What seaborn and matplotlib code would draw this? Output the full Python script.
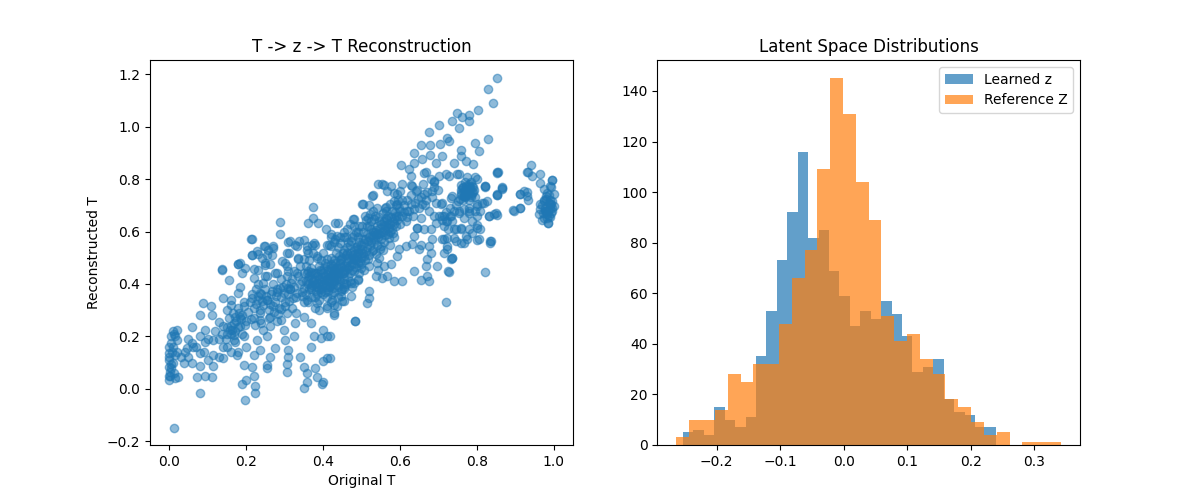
import numpy as np
import pandas as pd
import matplotlib
matplotlib.use('Agg')
import matplotlib.pyplot as plt
import seaborn as sns

# (original T, reconstructed T), grouped by region
pts_low = [
    (0.013, -0.147), (0.0, 0.034), (0.002, 0.05), (0.0, 0.085), (0.0, 0.11), (0.0, 0.137),
    (0.016, 0.13), (0.02, 0.187), (0.016, 0.2), (0.02, 0.225), (0.01, 0.16), (0.024, 0.047),
    (0.06, 0.237), (0.06, 0.175), (0.062, 0.16), (0.046, 0.155), (0.05, 0.12), (0.039, 0.1),
    (0.081, 0.136), (0.08, 0.086), (0.072, 0.047), (0.081, -0.016), (0.094, 0.05), (0.111, 0.045),
    (0.094, 0.225), (0.094, 0.18), (0.115, 0.187), (0.115, 0.086), (0.115, 0.13), (0.089, 0.328),
    (0.081, 0.283), (0.111, 0.283), (0.108, 0.315), (0.137, 0.455), (0.155, 0.417), (0.141, 0.347),
    (0.16, 0.34), (0.15, 0.30), (0.13, 0.255), (0.15, 0.235), (0.16, 0.21), (0.168, 0.187),
    (0.14, 0.16), (0.14, 0.117), (0.16, 0.14), (0.176, 0.13), (0.194, 0.09), (0.19, 0.02),
    (0.2, 0.035), (0.198, -0.042), (0.224, -0.016), (0.224, 0.01), (0.22, 0.05), (0.215, 0.085),
    (0.185, 0.48), (0.18, 0.475), (0.19, 0.44), (0.215, 0.57), (0.215, 0.51), (0.232, 0.516),
    (0.23, 0.455), (0.185, 0.39), (0.18, 0.365), (0.195, 0.315), (0.185, 0.276), (0.168, 0.25),
    (0.163, 0.225), (0.194, 0.2), (0.2, 0.16), (0.22, 0.13), (0.237, 0.148), (0.228, 0.187),
    (0.245, 0.225), (0.237, 0.264), (0.237, 0.302), (0.254, 0.34), (0.237, 0.366), (0.245, 0.404),
    (0.22, 0.422), (0.254, 0.43), (0.25, 0.48), (0.246, 0.545), (0.254, 0.512), (0.27, 0.545),
    (0.263, 0.475), (0.28, 0.44), (0.28, 0.379), (0.27, 0.315), (0.263, 0.276), (0.263, 0.238),
    (0.254, 0.2), (0.263, 0.123), (0.254, 0.09), (0.254, 0.078), (0.276, 0.155), (0.306, 0.096),
    (0.31, 0.12), (0.306, 0.066), (0.31, 0.148), (0.302, 0.187), (0.298, 0.225), (0.29, 0.264),
    (0.306, 0.29), (0.315, 0.379), (0.306, 0.43), (0.306, 0.468), (0.306, 0.52), (0.315, 0.563),
    (0.332, 0.545), (0.336, 0.494), (0.332, 0.443), (0.332, 0.366), (0.328, 0.251), (0.324, 0.2),
    (0.341, 0.123), (0.35, 0.085), (0.358, 0.06), (0.35, 0.002), (0.358, 0.028), (0.38, 0.079),
    (0.384, 0.047), (0.4, 0.028), (0.397, 0.02), (0.4, 0.105), (0.41, 0.117), (0.4, 0.225),
    (0.41, 0.2), (0.394, 0.193), (0.368, 0.16), (0.376, 0.2), (0.368, 0.25), (0.35, 0.276),
    (0.358, 0.34), (0.368, 0.39), (0.358, 0.443), (0.35, 0.494), (0.358, 0.545), (0.376, 0.557),
    (0.384, 0.507), (0.384, 0.443), (0.394, 0.379), (0.384, 0.328), (0.41, 0.315), (0.428, 0.283),
    (0.424, 0.34), (0.41, 0.39), (0.41, 0.494), (0.42, 0.545), (0.445, 0.557), (0.463, 0.52),
    (0.445, 0.48), (0.455, 0.443), (0.455, 0.39), (0.45, 0.334), (0.484, 0.26), (0.48, 0.404),
    (0.48, 0.494), (0.488, 0.545),
    (0.0, 0.05), (0.0, 0.12), (0.0, 0.16), (0.005, 0.08), (0.005, 0.2), (0.01, 0.1),
    (0.01, 0.22), (0.015, 0.04), (0.02, 0.14), (0.03, 0.12), (0.04, 0.14), (0.05, 0.19),
    (0.06, 0.1), (0.07, 0.16), (0.08, 0.2), (0.09, 0.14), (0.1, 0.19), (0.1, 0.11),
    (0.12, 0.22), (0.13, 0.19), (0.14, 0.24), (0.15, 0.21), (0.155, 0.27), (0.16, 0.24),
    (0.165, 0.29), (0.17, 0.22), (0.175, 0.26), (0.18, 0.31), (0.185, 0.24), (0.19, 0.28),
    (0.195, 0.33), (0.17, 0.18), (0.15, 0.16), (0.18, 0.14), (0.13, 0.12), (0.16, 0.32),
    (0.19, 0.21), (0.2, 0.26),
    (0.21, 0.33), (0.215, 0.36), (0.22, 0.31), (0.225, 0.38), (0.23, 0.34), (0.235, 0.29),
    (0.24, 0.36), (0.245, 0.32), (0.25, 0.38), (0.255, 0.34), (0.26, 0.30), (0.265, 0.36),
    (0.27, 0.40), (0.275, 0.33), (0.28, 0.37), (0.285, 0.31), (0.29, 0.35), (0.295, 0.39),
    (0.22, 0.27), (0.24, 0.25), (0.26, 0.27), (0.28, 0.26), (0.23, 0.40), (0.25, 0.43),
    (0.275, 0.44), (0.29, 0.42),
]

pts_upper_left = [
    (0.137, 0.458), (0.178, 0.477), (0.198, 0.46), (0.221, 0.458), (0.214, 0.572), (0.215, 0.512),
    (0.228, 0.525), (0.241, 0.5), (0.25, 0.544), (0.258, 0.53), (0.267, 0.512), (0.27, 0.537),
    (0.25, 0.474), (0.287, 0.637), (0.289, 0.592), (0.308, 0.56), (0.293, 0.487), (0.311, 0.52),
    (0.328, 0.55), (0.337, 0.563), (0.35, 0.567), (0.358, 0.53), (0.371, 0.55), (0.374, 0.695),
    (0.373, 0.653), (0.36, 0.634), (0.386, 0.631), (0.408, 0.608), (0.42, 0.592), (0.438, 0.634),
    (0.431, 0.572), (0.415, 0.55), (0.455, 0.579), (0.47, 0.627), (0.479, 0.649), (0.495, 0.622),
    (0.504, 0.704), (0.519, 0.7), (0.529, 0.738), (0.54, 0.69), (0.542, 0.78), (0.516, 0.653),
    (0.532, 0.646),
]

pts_mid = [
    (0.719, 0.331), (0.823, 0.446), (0.484, 0.26), (0.519, 0.372), (0.519, 0.346), (0.515, 0.327),
    (0.428, 0.289), (0.437, 0.315), (0.419, 0.2), (0.419, 0.117), (0.554, 0.423), (0.584, 0.41),
    (0.606, 0.41), (0.567, 0.43), (0.636, 0.449), (0.655, 0.417), (0.672, 0.43), (0.676, 0.41),
    (0.698, 0.468), (0.726, 0.449), (0.667, 0.468), (0.672, 0.494), (0.68, 0.52), (0.676, 0.545),
    (0.685, 0.57), (0.68, 0.609), (0.663, 0.609), (0.646, 0.615), (0.637, 0.583), (0.615, 0.545),
    (0.632, 0.552), (0.65, 0.532), (0.655, 0.55), (0.598, 0.532), (0.594, 0.507), (0.576, 0.475),
    (0.559, 0.468), (0.542, 0.455), (0.537, 0.43), (0.507, 0.455), (0.49, 0.417), (0.472, 0.404),
    (0.455, 0.379), (0.446, 0.353), (0.472, 0.353), (0.455, 0.334), (0.419, 0.392), (0.428, 0.455),
    (0.446, 0.494), (0.437, 0.583), (0.432, 0.634), (0.463, 0.609), (0.481, 0.647), (0.502, 0.704),
    (0.528, 0.736), (0.554, 0.78), (0.576, 0.774), (0.606, 0.78), (0.593, 0.742), (0.628, 0.812),
    (0.632, 0.774), (0.663, 0.742), (0.667, 0.825), (0.689, 0.787), (0.702, 0.812), (0.728, 0.812),
    (0.754, 0.819), (0.776, 0.806), (0.797, 0.806), (0.788, 0.774), (0.78, 0.749), (0.767, 0.736),
    (0.736, 0.736), (0.71, 0.71), (0.702, 0.66), (0.693, 0.634), (0.715, 0.66), (0.733, 0.66),
    (0.754, 0.672), (0.767, 0.685), (0.78, 0.672), (0.802, 0.698), (0.819, 0.71), (0.802, 0.66),
    (0.832, 0.66), (0.85, 0.672), (0.81, 0.609), (0.806, 0.57), (0.788, 0.596), (0.775, 0.57),
    (0.767, 0.557), (0.745, 0.564), (0.745, 0.609), (0.724, 0.577), (0.724, 0.532), (0.736, 0.5),
    (0.71, 0.57), (0.838, 0.564), (0.823, 0.774), (0.854, 0.825), (0.854, 0.742), (0.867, 0.768),
    (0.897, 0.677), (0.914, 0.69), (0.914, 0.742), (0.93, 0.749), (0.93, 0.825),
]

pts_upper = [
    (0.853, 1.187), (0.829, 1.143), (0.842, 1.089), (0.803, 1.063), (0.779, 1.045), (0.762, 1.035),
    (0.749, 1.05), (0.779, 1.02), (0.753, 0.996), (0.736, 1.02), (0.701, 1.006), (0.675, 0.978),
    (0.723, 0.958), (0.727, 0.945), (0.704, 0.935), (0.678, 0.929), (0.654, 0.93), (0.636, 0.901),
    (0.797, 0.936), (0.805, 0.906), (0.829, 0.952), (0.758, 0.91), (0.758, 0.888), (0.741, 0.86),
    (0.771, 0.869), (0.79, 0.859), (0.71, 0.888), (0.693, 0.86), (0.678, 0.892), (0.658, 0.875),
    (0.636, 0.862), (0.603, 0.853), (0.623, 0.837), (0.662, 0.824), (0.719, 0.818), (0.749, 0.818),
    (0.688, 0.792), (0.758, 0.779), (0.779, 0.773), (0.801, 0.8), (0.823, 0.773), (0.853, 0.824),
    (0.866, 0.767), (0.853, 0.741), (0.827, 0.716), (0.853, 0.664), (0.81, 0.677), (0.779, 0.69),
    (0.753, 0.677), (0.732, 0.728), (0.706, 0.703), (0.684, 0.754), (0.667, 0.722), (0.641, 0.754),
    (0.628, 0.779), (0.601, 0.754), (0.584, 0.747), (0.558, 0.779), (0.567, 0.754), (0.562, 0.69),
    (0.593, 0.703), (0.619, 0.677), (0.654, 0.652), (0.688, 0.658), (0.723, 0.639), (0.758, 0.613),
    (0.801, 0.626), (0.645, 0.613),
    (0.8, 0.703), (0.814, 0.71), (0.797, 0.678), (0.78, 0.678), (0.767, 0.652), (0.788, 0.64),
    (0.802, 0.614), (0.78, 0.608), (0.758, 0.608), (0.741, 0.608), (0.771, 0.582), (0.741, 0.576),
    (0.758, 0.556), (0.802, 0.569), (0.836, 0.556), (0.723, 0.544), (0.714, 0.518), (0.736, 0.5),
    (0.714, 0.57), (0.855, 0.825), (0.865, 0.763), (0.853, 0.741), (0.823, 0.771), (0.846, 0.665),
    (0.832, 0.659), (0.834, 0.562), (0.727, 0.446), (0.732, 0.496),
]

pts_right = [
    (0.942, 0.853), (0.933, 0.827), (0.944, 0.812), (0.964, 0.821), (0.964, 0.786), (0.997, 0.797),
    (0.992, 0.773), (0.983, 0.748), (1.0, 0.742), (0.975, 0.722), (0.988, 0.71), (1.0, 0.697),
    (0.966, 0.684), (0.979, 0.678), (0.997, 0.678), (0.962, 0.665), (0.983, 0.652), (0.985, 0.633),
    (0.992, 0.722), (0.975, 0.761), (0.923, 0.754), (0.93, 0.735), (0.913, 0.742), (0.933, 0.722),
    (0.914, 0.69), (0.895, 0.682), (0.98, 0.735), (0.975, 0.716), (0.993, 0.703), (0.98, 0.677),
    (0.988, 0.658), (0.975, 0.652), (0.986, 0.632), (0.993, 0.671), (0.997, 0.716), (0.995, 0.795),
    (0.993, 0.77), (0.97, 0.70), (0.99, 0.69), (0.985, 0.68),
    (0.978, 0.69), (0.99, 0.705), (0.996, 0.688), (0.972, 0.672), (0.984, 0.668), (0.992, 0.655),
    (0.97, 0.645), (0.98, 0.725), (0.988, 0.74), (0.965, 0.705),
]

pts_core = [
    (0.30, 0.33), (0.31, 0.36), (0.305, 0.40), (0.32, 0.42), (0.315, 0.38), (0.33, 0.35),
    (0.325, 0.45), (0.34, 0.40), (0.335, 0.43), (0.345, 0.37), (0.34, 0.47), (0.32, 0.31),
    (0.33, 0.29), (0.35, 0.33), (0.345, 0.41), (0.31, 0.45), (0.30, 0.48), (0.335, 0.50),
    (0.35, 0.44), (0.325, 0.39),
    (0.355, 0.36), (0.36, 0.40), (0.365, 0.43), (0.37, 0.38), (0.37, 0.46), (0.375, 0.41),
    (0.38, 0.35), (0.38, 0.44), (0.385, 0.39), (0.39, 0.42), (0.39, 0.47), (0.395, 0.37),
    (0.395, 0.45), (0.36, 0.33), (0.365, 0.49), (0.375, 0.52), (0.38, 0.31), (0.385, 0.50),
    (0.39, 0.34), (0.36, 0.45), (0.37, 0.42), (0.38, 0.40), (0.39, 0.38), (0.355, 0.41),
    (0.365, 0.38), (0.375, 0.44), (0.385, 0.43), (0.395, 0.41), (0.355, 0.47), (0.37, 0.35),
    (0.385, 0.36), (0.395, 0.49), (0.36, 0.52), (0.38, 0.55), (0.39, 0.30),
    (0.40, 0.40), (0.40, 0.44), (0.405, 0.37), (0.405, 0.48), (0.41, 0.42), (0.41, 0.35),
    (0.415, 0.45), (0.415, 0.39), (0.42, 0.43), (0.42, 0.50), (0.425, 0.40), (0.425, 0.47),
    (0.43, 0.37), (0.43, 0.44), (0.435, 0.42), (0.435, 0.52), (0.44, 0.46), (0.44, 0.39),
    (0.445, 0.44), (0.445, 0.49), (0.40, 0.52), (0.41, 0.55), (0.42, 0.33), (0.43, 0.56),
    (0.44, 0.35), (0.405, 0.43), (0.415, 0.41), (0.425, 0.44), (0.435, 0.46), (0.445, 0.41),
    (0.41, 0.47), (0.42, 0.46), (0.43, 0.41), (0.44, 0.43), (0.40, 0.36), (0.43, 0.49),
    (0.44, 0.54), (0.42, 0.58), (0.445, 0.58), (0.41, 0.31), (0.43, 0.32),
    (0.45, 0.45), (0.45, 0.50), (0.455, 0.42), (0.455, 0.53), (0.46, 0.47), (0.46, 0.40),
    (0.465, 0.50), (0.465, 0.56), (0.47, 0.44), (0.47, 0.52), (0.475, 0.48), (0.475, 0.58),
    (0.48, 0.50), (0.48, 0.45), (0.485, 0.54), (0.485, 0.60), (0.49, 0.48), (0.49, 0.52),
    (0.495, 0.56), (0.495, 0.44), (0.45, 0.38), (0.46, 0.58), (0.47, 0.41), (0.48, 0.62),
    (0.49, 0.42), (0.455, 0.47), (0.465, 0.46), (0.475, 0.51), (0.485, 0.49), (0.46, 0.51),
    (0.47, 0.55), (0.48, 0.53), (0.49, 0.58), (0.50, 0.50), (0.475, 0.39), (0.455, 0.60),
    (0.50, 0.55), (0.505, 0.52), (0.505, 0.60), (0.51, 0.57), (0.51, 0.49), (0.515, 0.62),
    (0.515, 0.54), (0.52, 0.58), (0.52, 0.51), (0.525, 0.64), (0.525, 0.56), (0.53, 0.60),
    (0.53, 0.53), (0.535, 0.57), (0.535, 0.66), (0.54, 0.62), (0.54, 0.55), (0.545, 0.59),
    (0.545, 0.50), (0.55, 0.63), (0.50, 0.46), (0.51, 0.66), (0.52, 0.47), (0.53, 0.68),
    (0.54, 0.48), (0.505, 0.57), (0.515, 0.59), (0.525, 0.61), (0.535, 0.60), (0.545, 0.64),
    (0.52, 0.62), (0.53, 0.58), (0.54, 0.59), (0.55, 0.57),
    (0.555, 0.60), (0.56, 0.64), (0.56, 0.56), (0.565, 0.62), (0.57, 0.66), (0.57, 0.59),
    (0.575, 0.63), (0.58, 0.61), (0.58, 0.68), (0.585, 0.65), (0.59, 0.62), (0.59, 0.70),
    (0.595, 0.66), (0.60, 0.63), (0.555, 0.53), (0.565, 0.68), (0.575, 0.55), (0.585, 0.58),
    (0.595, 0.72), (0.565, 0.65), (0.575, 0.60), (0.585, 0.63), (0.60, 0.68), (0.57, 0.63),
    (0.59, 0.66),
    (0.605, 0.66), (0.61, 0.70), (0.615, 0.64), (0.62, 0.72), (0.625, 0.68), (0.63, 0.74),
    (0.635, 0.66), (0.64, 0.71), (0.645, 0.76), (0.65, 0.69), (0.655, 0.73), (0.66, 0.78),
    (0.665, 0.70), (0.67, 0.75), (0.675, 0.68), (0.68, 0.80), (0.685, 0.73), (0.69, 0.77),
    (0.695, 0.71), (0.70, 0.76),
    (0.76, 0.74), (0.765, 0.77), (0.77, 0.73), (0.775, 0.76), (0.78, 0.78), (0.785, 0.74),
    (0.79, 0.77), (0.77, 0.79), (0.76, 0.76), (0.78, 0.72), (0.79, 0.75), (0.775, 0.74),
    (0.765, 0.72), (0.785, 0.79), (0.795, 0.73), (0.73, 0.66), (0.72, 0.64), (0.715, 0.62),
    (0.725, 0.61), (0.735, 0.64), (0.71, 0.66),
]

# second pass over the darkest parts of the cloud
pts_dense = [
    (0.372, 0.395), (0.378, 0.415), (0.388, 0.405), (0.398, 0.425), (0.402, 0.415), (0.408, 0.395),
    (0.412, 0.435), (0.418, 0.42), (0.422, 0.405), (0.428, 0.425), (0.432, 0.455), (0.438, 0.44),
    (0.442, 0.42), (0.448, 0.465), (0.452, 0.44), (0.458, 0.455), (0.462, 0.485), (0.468, 0.47),
    (0.472, 0.495), (0.478, 0.475), (0.482, 0.515), (0.488, 0.505), (0.492, 0.535), (0.498, 0.52),
    (0.362, 0.415), (0.368, 0.445), (0.392, 0.455), (0.404, 0.46), (0.426, 0.385), (0.436, 0.395),
    (0.446, 0.375), (0.456, 0.405), (0.466, 0.425), (0.476, 0.455), (0.486, 0.465), (0.496, 0.485),
    (0.382, 0.375), (0.396, 0.395), (0.414, 0.375), (0.424, 0.36), (0.352, 0.385), (0.346, 0.355),
    (0.502, 0.535), (0.508, 0.555), (0.512, 0.525), (0.518, 0.565), (0.522, 0.545), (0.528, 0.585),
    (0.532, 0.565), (0.538, 0.605), (0.542, 0.58), (0.548, 0.615), (0.552, 0.595), (0.558, 0.625),
    (0.562, 0.605), (0.568, 0.645), (0.572, 0.615), (0.578, 0.655), (0.582, 0.64), (0.588, 0.675),
    (0.592, 0.645), (0.598, 0.69), (0.552, 0.545), (0.562, 0.585), (0.572, 0.575), (0.582, 0.595),
    (0.528, 0.525), (0.538, 0.515), (0.548, 0.535), (0.508, 0.505), (0.518, 0.495), (0.498, 0.475),
    (0.545, 0.655), (0.555, 0.67), (0.565, 0.695), (0.575, 0.705), (0.585, 0.715), (0.605, 0.72),
    (0.612, 0.675), (0.618, 0.655), (0.628, 0.705), (0.638, 0.685), (0.648, 0.725), (0.658, 0.705),
    (0.215, 0.345), (0.225, 0.325), (0.232, 0.355), (0.242, 0.335), (0.252, 0.355), (0.262, 0.325),
    (0.268, 0.375), (0.278, 0.355), (0.288, 0.385), (0.298, 0.365), (0.308, 0.385), (0.318, 0.405),
    (0.272, 0.295), (0.282, 0.285), (0.292, 0.305), (0.302, 0.315), (0.312, 0.335), (0.322, 0.345),
    (0.205, 0.295), (0.212, 0.265), (0.222, 0.245), (0.198, 0.245), (0.188, 0.265), (0.178, 0.235),
    (0.168, 0.205), (0.158, 0.225), (0.148, 0.19), (0.138, 0.21), (0.172, 0.275), (0.182, 0.29),
    (0.005, 0.095), (0.008, 0.14), (0.004, 0.175), (0.012, 0.21), (0.003, 0.065), (0.012, 0.06),
    (0.758, 0.745), (0.762, 0.765), (0.768, 0.755), (0.772, 0.775), (0.778, 0.755), (0.782, 0.765),
    (0.788, 0.745), (0.792, 0.76), (0.772, 0.745), (0.766, 0.735), (0.784, 0.73), (0.756, 0.725),
    (0.74, 0.68), (0.745, 0.7), (0.752, 0.715), (0.73, 0.69), (0.72, 0.675), (0.71, 0.645),
    (0.522, 0.665), (0.512, 0.645), (0.502, 0.62), (0.492, 0.6), (0.482, 0.585), (0.472, 0.565),
    (0.462, 0.54), (0.452, 0.52), (0.442, 0.505), (0.432, 0.48), (0.422, 0.475), (0.412, 0.455),
]

# latent histograms: 30 bins each, counts
learned_range = (-0.2529, 0.2393)
learned_counts = [5, 6, 4, 15, 10, 7, 11, 35, 53, 73, 92, 116, 82, 85, 69,
                  59, 47, 53, 50, 57, 52, 43, 29, 31, 34, 18, 13, 12, 7, 7]
reference_range = (-0.2630, 0.3414)
reference_counts = [3, 10, 10, 14, 28, 25, 32, 32, 48, 66, 77, 109, 145, 131, 104,
                    89, 51, 41, 44, 34, 28, 18, 15, 9, 4, 5, 0, 1, 1, 1]


def main():
    pts = pts_low + pts_upper_left + pts_mid + pts_upper + pts_right + pts_core + pts_dense
    df = pd.DataFrame(pts, columns=['orig', 'recon'])

    fig, (ax1, ax2) = plt.subplots(1, 2, figsize=(12, 5), dpi=100)

    sns.scatterplot(data=df, x='orig', y='recon', ax=ax1, color='C0', alpha=0.5,
                    s=36, edgecolor='face', linewidth=1)
    ax1.set_xlabel('Original T')
    ax1.set_ylabel('Reconstructed T')
    ax1.set_title('T -> z -> T Reconstruction')

    for rng, counts, color, label in [(learned_range, learned_counts, 'C0', 'Learned z'),
                                      (reference_range, reference_counts, 'C1', 'Reference Z')]:
        edges = np.linspace(rng[0], rng[1], len(counts) + 1)
        centers = (edges[:-1] + edges[1:]) / 2
        hist_df = pd.DataFrame({'z': centers, 'n': counts})
        sns.histplot(data=hist_df, x='z', weights='n', bins=edges.tolist(), ax=ax2,
                     color=color, alpha=0.7, linewidth=0, label=label)
    ax2.set_xlabel('')
    ax2.set_ylabel('')
    ax2.set_title('Latent Space Distributions')
    ax2.legend(loc='upper right')

    fig.savefig('out.png')


if __name__ == '__main__':
    main()
